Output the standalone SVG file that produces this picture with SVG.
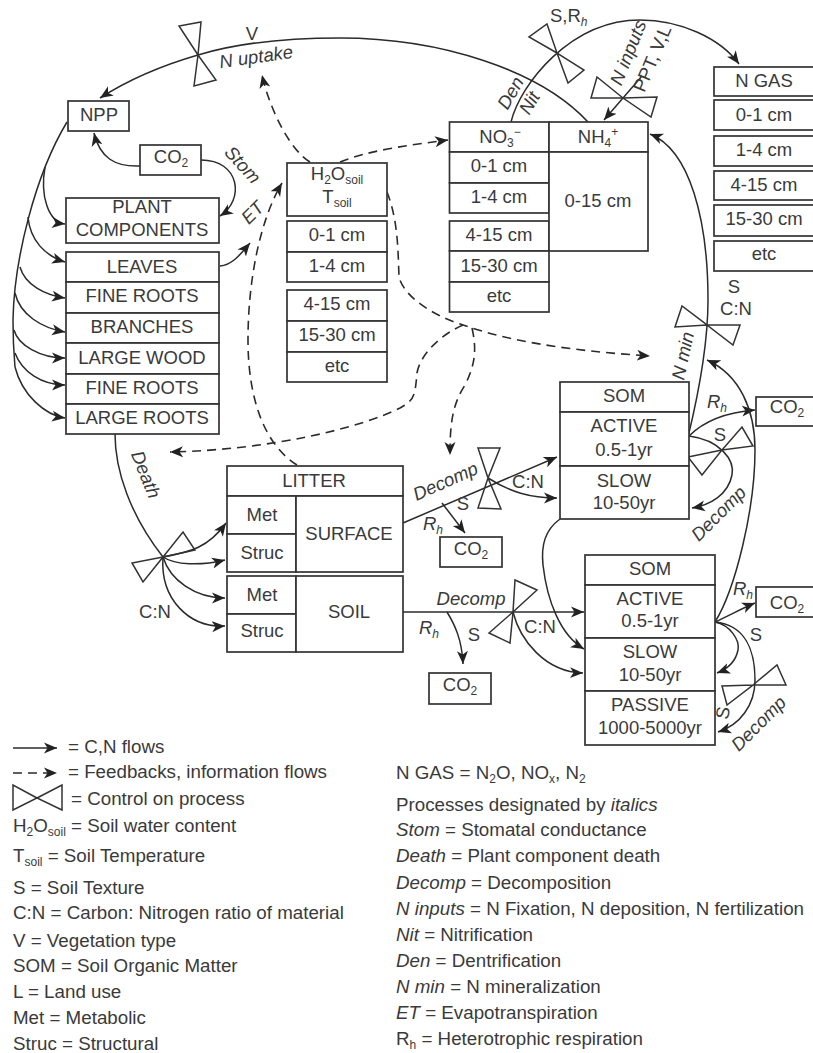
<svg xmlns="http://www.w3.org/2000/svg" width="813" height="1053" viewBox="0 0 813 1053">
<style>
text{font-family:"Liberation Sans",Arial,sans-serif;font-size:18.5px;fill:#3a3a3a}
.c{text-anchor:middle}
.i{font-style:italic}
.l{font-size:18.75px}
.b{fill:#fff;stroke:#333;stroke-width:1.7}
.f{fill:none;stroke:#2b2b2b;stroke-width:1.5}
.a{marker-end:url(#arr)}
.d{fill:none;stroke:#2b2b2b;stroke-width:1.6;stroke-dasharray:9 6;marker-end:url(#arr)}
.v{fill:none;stroke:#333;stroke-width:1.5;stroke-linejoin:miter}
</style>
<defs>
<marker id="arr" markerUnits="userSpaceOnUse" markerWidth="15" markerHeight="12" refX="13" refY="6" orient="auto"><path d="M0 0.5L13 6L0 11.5L3.5 6Z" fill="#222"/></marker>
</defs>
<rect width="813" height="1053" fill="#fff"/>
<g id="connectors">
<path class="f a" d="M588 122C540 70 440 38 340 38C290 38 240 42 198 55C160 66 125 82 100 98"/>
<path class="f a" d="M511 122C520 85 570 20 640 20C680 20 720 38 739 64"/>
<path class="f a" d="M642 76L604 120"/>
<path class="f a" d="M688 437C697 400 708 350 708 300C708 220 690 150 650 134"/>
<path class="f a" d="M140 166C115 167 100 158 94 133"/>
<path class="f a" d="M201 160C240 160 245 200 220 216"/>
<path class="f a" d="M220 266C232 265 240 255 250 243"/>
<path class="f" d="M67 122C35 175 14 260 13 320C13 345 14 355 15 367"/>
<path class="f a" d="M45 167C40 195 48 222 65 224"/>
<path class="f a" d="M28 217C30 240 45 256 65 262"/>
<path class="f a" d="M20 267C25 285 45 295 65 298"/>
<path class="f a" d="M15 293C20 315 42 328 65 332"/>
<path class="f a" d="M14 330C18 345 40 358 65 358"/>
<path class="f a" d="M15 353C22 372 42 385 65 385"/>
<path class="f a" d="M15 367C22 395 45 415 65 418"/>
<path class="f" d="M115 434C115 470 130 515 163 557"/>
<path class="f a" d="M163 557C190 552 208 548 226 523"/>
<path class="f a" d="M163 557C175 565 200 566 225 560"/>
<path class="f a" d="M163 557C170 580 195 598 225 598"/>
<path class="f a" d="M163 557C160 600 190 628 225 626"/>
<path class="f a" d="M403 523L557 457"/>
<path class="f a" d="M488 478C510 492 530 498 557 498"/>
<path class="f a" d="M442 503L465 533"/>
<path class="f a" d="M403 612L584 612"/>
<path class="f a" d="M513 612C520 640 545 672 583 673"/>
<path class="f a" d="M447 612C455 625 462 640 463 664"/>
<path class="f a" d="M560 519C545 530 541 545 543 565C547 600 560 635 584 649"/>
<path class="f a" d="M689 436C705 420 730 412 755 410"/>
<path class="f a" d="M689 436C720 440 735 460 732 475C728 495 710 505 692 508"/>
<path class="f a" d="M715 622C735 590 755 510 755 450C755 410 740 375 707 360"/>
<path class="f a" d="M715 622C730 615 745 607 755 603"/>
<path class="f a" d="M715 622C730 625 740 640 738 650C736 660 730 668 717 673"/>
<path class="f a" d="M715 622C745 625 755 650 755 680C755 705 740 725 718 732"/>
<path class="d" d="M310 162C290 150 270 110 262 75"/>
<path class="d" d="M340 162C370 150 410 145 448 140"/>
<path class="d" d="M297 465C265 445 248 400 248 340C248 280 260 220 282 183"/>
<path class="d" d="M387 192C398 220 398 250 399 277C405 300 440 318 463 325C520 345 590 352 650 356"/>
<path class="d" d="M463 325C440 335 420 355 417 373C415 395 415 400 400 408C360 428 270 450 170 452"/>
<path class="d" d="M472 328C477 350 475 365 465 385C452 405 450 425 450 455"/>
<path class="f a" d="M13 748L57 748"/>
<path class="d" d="M13 773L57 773"/>
</g>
<g id="controls">
<path class="v" d="M198 55L179 26L201 22ZM198 55L194 86L216 80Z"/>
<path class="v" d="M557 53L529 37L547 24ZM557 53L568 83L584 70Z"/>
<path class="v" d="M623 98L597 77L591 98ZM623 98L657 97L651 117Z"/>
<path class="v" d="M707 325L675 327L682 306ZM707 325L740 325L733 345Z"/>
<path class="v" d="M488 478L478 448L500 448ZM488 478L478 508L501 509Z"/>
<path class="v" d="M163 557L132 563L143 582ZM163 557L183 532L195 550Z"/>
<path class="v" d="M513 612L515 580L537 590ZM513 612L489 633L510 643Z"/>
<path class="v" d="M722 450L688 457L702 475ZM722 450L742 427L753 446Z"/>
<path class="v" d="M753 685L722 686L727 705ZM753 685L777 665L786 685Z"/>
<path class="v" d="M37 798L13 785L13 810ZM37 798L62 785L62 810Z"/>
</g>
<g id="npp"><rect class="b" x="68" y="101" width="61" height="30"/><text class="c" x="99" y="121">NPP</text></g>
<g id="co2-air"><rect class="b" x="140" y="145" width="61" height="30"/><text class="c" x="171" y="163">CO<tspan font-size="12" dy="4">2</tspan></text></g>
<g id="plant"><rect class="b" x="66" y="198" width="153" height="45"/><text class="c" x="142" y="213">PLANT</text><text class="c" x="142" y="236">COMPONENTS</text></g>
<g id="leaves"><rect class="b" x="66" y="252" width="153" height="30"/><text class="c" x="142" y="273">LEAVES</text></g>
<g id="fine-roots-1"><rect class="b" x="66" y="282" width="153" height="31"/><text class="c" x="142" y="302">FINE ROOTS</text></g>
<g id="branches"><rect class="b" x="66" y="313" width="153" height="30"/><text class="c" x="142" y="333">BRANCHES</text></g>
<g id="large-wood"><rect class="b" x="66" y="343" width="153" height="31"/><text class="c" x="142" y="364">LARGE WOOD</text></g>
<g id="fine-roots-2"><rect class="b" x="66" y="374" width="153" height="30"/><text class="c" x="142" y="394">FINE ROOTS</text></g>
<g id="large-roots"><rect class="b" x="66" y="404" width="153" height="30"/><text class="c" x="142" y="424">LARGE ROOTS</text></g>
<g id="soil-env"><rect class="b" x="287" y="163" width="100" height="53"/><text class="c" x="337" y="180">H<tspan font-size="12" dy="4">2</tspan><tspan dy="-4">O</tspan><tspan font-size="12" dy="4">soil</tspan></text><text class="c" x="337" y="203">T<tspan font-size="12" dy="4">soil</tspan></text>
<rect class="b" x="287" y="221" width="100" height="31"/><text class="c" x="337" y="241">0-1 cm</text>
<rect class="b" x="287" y="252" width="100" height="30"/><text class="c" x="337" y="272">1-4 cm</text>
<rect class="b" x="287" y="290" width="100" height="31"/><text class="c" x="337" y="310">4-15 cm</text>
<rect class="b" x="287" y="321" width="100" height="31"/><text class="c" x="337" y="341">15-30 cm</text>
<rect class="b" x="287" y="352" width="100" height="30"/><text class="c" x="337" y="372">etc</text></g>
<g id="no3"><rect class="b" x="449.500" y="122" width="99.500" height="30"/><text class="c" x="500" y="143">NO<tspan font-size="12" dy="4">3</tspan><tspan font-size="12" dy="-11">−</tspan></text>
<rect class="b" x="449.500" y="152" width="99.500" height="31"/><text class="c" x="499" y="172">0-1 cm</text>
<rect class="b" x="449.500" y="183" width="99.500" height="30"/><text class="c" x="499" y="203">1-4 cm</text>
<rect class="b" x="449.500" y="221" width="99.500" height="30"/><text class="c" x="499" y="241">4-15 cm</text>
<rect class="b" x="449.500" y="251" width="99.500" height="31"/><text class="c" x="499" y="272">15-30 cm</text>
<rect class="b" x="449.500" y="282" width="99.500" height="30"/><text class="c" x="499" y="302">etc</text></g>
<g id="nh4"><rect class="b" x="549" y="122" width="99" height="30"/><text class="c" x="598" y="143">NH<tspan font-size="12" dy="4">4</tspan><tspan font-size="12" dy="-11">+</tspan></text>
<rect class="b" x="549" y="152" width="99" height="99"/><text class="c" x="598" y="207">0-15 cm</text></g>
<g id="n-gas"><rect class="b" x="714" y="67" width="100" height="29"/><text class="c" x="764" y="87">N GAS</text>
<rect class="b" x="714" y="100" width="100" height="30"/><text class="c" x="764" y="121">0-1 cm</text>
<rect class="b" x="714" y="136" width="100" height="30"/><text class="c" x="764" y="156">1-4 cm</text>
<rect class="b" x="714" y="171" width="100" height="29"/><text class="c" x="764" y="191">4-15 cm</text>
<rect class="b" x="714" y="205" width="100" height="31"/><text class="c" x="764" y="225">15-30 cm</text>
<rect class="b" x="714" y="241" width="100" height="30"/><text class="c" x="764" y="260">etc</text></g>
<g id="som-upper"><rect class="b" x="560" y="382" width="129" height="30"/><text class="c" x="624" y="402">SOM</text>
<rect class="b" x="560" y="412" width="129" height="54"/><text class="c" x="624" y="432">ACTIVE</text><text class="c" x="624" y="456">0.5-1yr</text>
<rect class="b" x="560" y="466" width="129" height="53"/><text class="c" x="624" y="487">SLOW</text><text class="c" x="624" y="509">10-50yr</text></g>
<g id="som-lower"><rect class="b" x="585" y="555" width="130" height="30"/><text class="c" x="650" y="575">SOM</text>
<rect class="b" x="585" y="585" width="130" height="53"/><text class="c" x="650" y="605">ACTIVE</text><text class="c" x="650" y="627">0.5-1yr</text>
<rect class="b" x="585" y="638" width="130" height="53"/><text class="c" x="650" y="658">SLOW</text><text class="c" x="650" y="681">10-50yr</text>
<rect class="b" x="585" y="691" width="130" height="54"/><text class="c" x="650" y="711">PASSIVE</text><text class="c" x="650" y="734">1000-5000yr</text></g>
<g id="co2-a"><rect class="b" x="756" y="397" width="58" height="29"/><text class="c" x="787" y="413">CO<tspan font-size="12" dy="4">2</tspan></text></g>
<g id="co2-b"><rect class="b" x="440" y="537" width="62" height="30"/><text class="c" x="471" y="555">CO<tspan font-size="12" dy="4">2</tspan></text></g>
<g id="co2-c"><rect class="b" x="756" y="587" width="58" height="30"/><text class="c" x="787" y="609">CO<tspan font-size="12" dy="4">2</tspan></text></g>
<g id="co2-d"><rect class="b" x="429" y="673" width="62" height="31"/><text class="c" x="460" y="691">CO<tspan font-size="12" dy="4">2</tspan></text></g>
<g id="litter"><rect class="b" x="227" y="466" width="176" height="30"/><text class="c" x="314" y="487">LITTER</text>
<rect class="b" x="227" y="496" width="69" height="38"/><text class="c" x="262" y="521">Met</text>
<rect class="b" x="227" y="534" width="69" height="38"/><text class="c" x="262" y="559">Struc</text>
<rect class="b" x="296" y="496" width="107" height="76"/><text class="c" x="349" y="540">SURFACE</text></g>
<g id="soil"><rect class="b" x="227" y="576" width="69" height="38"/><text class="c" x="262" y="601">Met</text>
<rect class="b" x="227" y="614" width="69" height="38"/><text class="c" x="262" y="637">Struc</text>
<rect class="b" x="296" y="576" width="107" height="76"/><text class="c" x="349" y="618">SOIL</text></g>
<g id="labels">
<text class="c" x="252" y="40">V</text>
<text class="c i" transform="translate(257 63) rotate(-8)">N uptake</text>
<text class="c i" transform="translate(238 169) rotate(48)">Stom</text>
<text class="c i" transform="translate(257 217) rotate(-45)">ET</text>
<text class="c i" transform="translate(140 477) rotate(68)">Death</text>
<text x="550" y="22">S,R<tspan class="i" font-size="12" dy="4">h</tspan></text>
<text class="c i" transform="translate(516 96) rotate(-60)">Den</text>
<text class="c i" transform="translate(535 106) rotate(-60)">Nit</text>
<text class="c i" transform="translate(634 55) rotate(-68)" font-size="17.500">N inputs</text>
<text class="c" transform="translate(658 61) rotate(-67)" font-size="17.500">PPT, V,L</text>
<text class="c" x="734" y="293">S</text>
<text class="c" x="736" y="315">C:N</text>
<text class="c i" transform="translate(689 357) rotate(-78)">N min</text>
<text class="c i" x="717" y="408">R<tspan font-size="12" dy="4">h</tspan></text>
<text class="c" x="720" y="441">S</text>
<text class="c" x="463" y="510">S</text>
<text class="c i" x="433" y="530">R<tspan font-size="12" dy="4">h</tspan></text>
<text class="c" x="528" y="488">C:N</text>
<text class="c i" transform="translate(448 487) rotate(-24)">Decomp</text>
<text class="c i" transform="translate(723 518) rotate(-45)">Decomp</text>
<text class="c i" x="471" y="605">Decomp</text>
<text class="c i" x="429" y="634">R<tspan font-size="12" dy="4">h</tspan></text>
<text class="c" x="474" y="641">S</text>
<text class="c" x="540" y="633">C:N</text>
<text class="c i" x="743" y="595">R<tspan font-size="12" dy="4">h</tspan></text>
<text class="c" x="756" y="641">S</text>
<text class="c" transform="translate(729 714) rotate(-80)">S</text>
<text class="c i" transform="translate(763 728) rotate(-45)">Decomp</text>
<text class="c" x="155" y="618">C:N</text>
</g>
<g id="legend">
<text class="l" x="68" y="753">= C,N flows</text>
<text class="l" x="68" y="778">= Feedbacks, information flows</text>
<text class="l" x="71" y="805">= Control on process</text>
<text class="l" x="13" y="832">H<tspan font-size="12" dy="4">2</tspan><tspan dy="-4">O</tspan><tspan font-size="12" dy="4">soil</tspan><tspan dy="-4"> = Soil water content</tspan></text>
<text class="l" x="13" y="862">T<tspan font-size="12" dy="4">soil</tspan><tspan dy="-4"> = Soil Temperature</tspan></text>
<text class="l" x="13" y="894">S = Soil Texture</text>
<text class="l" x="13" y="919">C:N = Carbon: Nitrogen ratio of material</text>
<text class="l" x="13" y="947">V = Vegetation type</text>
<text class="l" x="13" y="972">SOM = Soil Organic Matter</text>
<text class="l" x="13" y="998">L = Land use</text>
<text class="l" x="13" y="1024">Met = Metabolic</text>
<text class="l" x="13" y="1050">Struc = Structural</text>
<text class="l" x="396" y="779">N GAS = N<tspan font-size="12" dy="4">2</tspan><tspan dy="-4">O, NO</tspan><tspan font-size="12" dy="4">x</tspan><tspan dy="-4">, N</tspan><tspan font-size="12" dy="4">2</tspan></text>
<text class="l" x="396" y="811">Processes designated by <tspan class="i">italics</tspan></text>
<text class="l" x="396" y="836"><tspan class="i">Stom</tspan> = Stomatal conductance</text>
<text class="l" x="396" y="862"><tspan class="i">Death</tspan> = Plant component death</text>
<text class="l" x="396" y="889"><tspan class="i">Decomp</tspan> = Decomposition</text>
<text class="l" x="396" y="915"><tspan class="i">N inputs</tspan> = N Fixation, N deposition, N fertilization</text>
<text class="l" x="396" y="941"><tspan class="i">Nit</tspan> = Nitrification</text>
<text class="l" x="396" y="967"><tspan class="i">Den</tspan> = Dentrification</text>
<text class="l" x="396" y="993"><tspan class="i">N min</tspan> = N mineralization</text>
<text class="l" x="396" y="1019"><tspan class="i">ET</tspan> = Evapotranspiration</text>
<text class="l" x="396" y="1045">R<tspan font-size="12" dy="4">h</tspan><tspan dy="-4"> = Heterotrophic respiration</tspan></text>
</g>
</svg>
